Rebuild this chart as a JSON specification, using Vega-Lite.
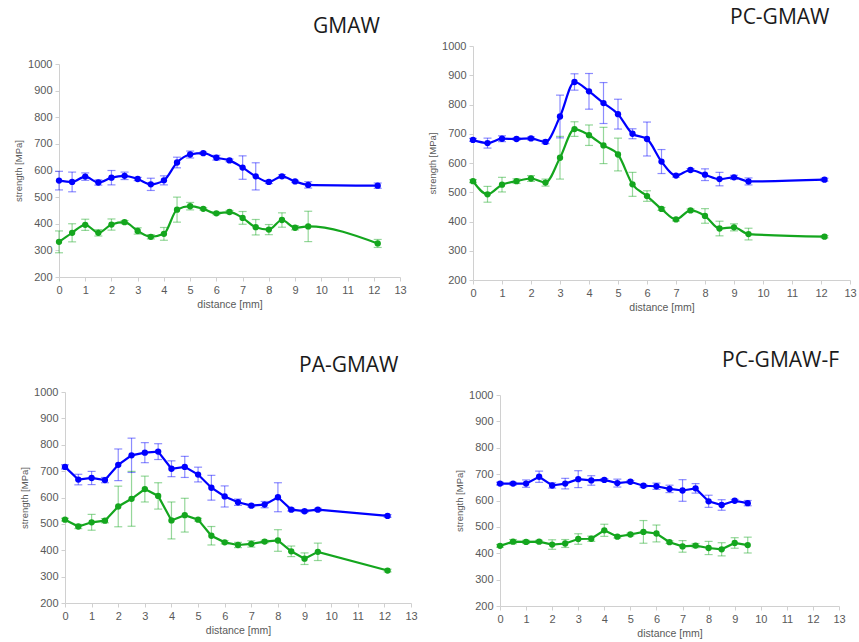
{
  "$schema": "https://vega.github.io/schema/vega-lite/v6.json",
  "background": "white",
  "padding": {"left": 13, "top": 7, "right": 0, "bottom": 0},
  "config": {
    "view": {"stroke": null},
    "axis": {
      "grid": false,
      "domainColor": "#d0d0d0",
      "tickColor": "#d0d0d0",
      "tickSize": 4,
      "labelColor": "#595959",
      "titleColor": "#595959",
      "labelFont": "Liberation Sans",
      "titleFont": "Liberation Sans",
      "labelFontSize": 11,
      "titleFontWeight": "normal",
      "labelPadding": 3
    },
    "axisX": {"titleFontSize": 10.5, "titlePadding": 4, "labelOverlap": false, "labelFlush": false, "labelBound": false, "labelSeparation": 0},
    "axisY": {"titleFontSize": 9.5, "titlePadding": 4},
    "rule": {"strokeWidth": 1.2, "opacity": 0.45},
    "tick": {"orient": "horizontal", "size": 8, "thickness": 1.2, "opacity": 0.45},
    "title": {"font": "Open Sans", "fontSize": 21, "fontWeight": "normal", "color": "#1a1a1a", "anchor": "start", "frame": "group", "baseline": "alphabetic"}
  },
  "datasets": {
    "pts": [
      {"p": "a", "s": "UTS", "d": 0, "v": 562, "lo": 527, "hi": 597},
      {"p": "a", "s": "UTS", "d": 0.5, "v": 557, "lo": 520, "hi": 594},
      {"p": "a", "s": "UTS", "d": 1, "v": 577, "lo": 563, "hi": 591},
      {"p": "a", "s": "UTS", "d": 1.5, "v": 555, "lo": 545, "hi": 565},
      {"p": "a", "s": "UTS", "d": 2, "v": 573, "lo": 546, "hi": 600},
      {"p": "a", "s": "UTS", "d": 2.5, "v": 580, "lo": 566, "hi": 594},
      {"p": "a", "s": "UTS", "d": 3, "v": 568, "lo": 562, "hi": 574},
      {"p": "a", "s": "UTS", "d": 3.5, "v": 548, "lo": 525, "hi": 571},
      {"p": "a", "s": "UTS", "d": 4, "v": 563, "lo": 546, "hi": 580},
      {"p": "a", "s": "UTS", "d": 4.5, "v": 630, "lo": 610, "hi": 650},
      {"p": "a", "s": "UTS", "d": 5, "v": 660, "lo": 647, "hi": 673},
      {"p": "a", "s": "UTS", "d": 5.5, "v": 665, "lo": 661, "hi": 669},
      {"p": "a", "s": "UTS", "d": 6, "v": 648, "lo": 639, "hi": 657},
      {"p": "a", "s": "UTS", "d": 6.5, "v": 638, "lo": 633, "hi": 643},
      {"p": "a", "s": "UTS", "d": 7, "v": 611, "lo": 567, "hi": 655},
      {"p": "a", "s": "UTS", "d": 7.5, "v": 578, "lo": 527, "hi": 629},
      {"p": "a", "s": "UTS", "d": 8, "v": 557, "lo": 551, "hi": 563},
      {"p": "a", "s": "UTS", "d": 8.5, "v": 578, "lo": 572, "hi": 584},
      {"p": "a", "s": "UTS", "d": 9, "v": 559, "lo": 555, "hi": 563},
      {"p": "a", "s": "UTS", "d": 9.5, "v": 546, "lo": 534, "hi": 558},
      {"p": "a", "s": "UTS", "d": 12.15, "v": 543, "lo": 533, "hi": 553},
      {"p": "a", "s": "YS", "d": 0, "v": 332, "lo": 291, "hi": 373},
      {"p": "a", "s": "YS", "d": 0.5, "v": 366, "lo": 332, "hi": 400},
      {"p": "a", "s": "YS", "d": 1, "v": 396, "lo": 375, "hi": 417},
      {"p": "a", "s": "YS", "d": 1.5, "v": 366, "lo": 354, "hi": 378},
      {"p": "a", "s": "YS", "d": 2, "v": 397, "lo": 376, "hi": 418},
      {"p": "a", "s": "YS", "d": 2.5, "v": 406, "lo": 400, "hi": 412},
      {"p": "a", "s": "YS", "d": 3, "v": 373, "lo": 361, "hi": 385},
      {"p": "a", "s": "YS", "d": 3.5, "v": 351, "lo": 343, "hi": 359},
      {"p": "a", "s": "YS", "d": 4, "v": 362, "lo": 338, "hi": 386},
      {"p": "a", "s": "YS", "d": 4.5, "v": 453, "lo": 406, "hi": 500},
      {"p": "a", "s": "YS", "d": 5, "v": 466, "lo": 452, "hi": 480},
      {"p": "a", "s": "YS", "d": 5.5, "v": 456, "lo": 452, "hi": 460},
      {"p": "a", "s": "YS", "d": 6, "v": 439, "lo": 434, "hi": 444},
      {"p": "a", "s": "YS", "d": 6.5, "v": 444, "lo": 438, "hi": 450},
      {"p": "a", "s": "YS", "d": 7, "v": 422, "lo": 398, "hi": 446},
      {"p": "a", "s": "YS", "d": 7.5, "v": 387, "lo": 358, "hi": 416},
      {"p": "a", "s": "YS", "d": 8, "v": 378, "lo": 359, "hi": 397},
      {"p": "a", "s": "YS", "d": 8.5, "v": 414, "lo": 387, "hi": 441},
      {"p": "a", "s": "YS", "d": 9, "v": 385, "lo": 377, "hi": 393},
      {"p": "a", "s": "YS", "d": 9.5, "v": 390, "lo": 333, "hi": 447},
      {"p": "a", "s": "YS", "d": 12.15, "v": 326, "lo": 311, "hi": 341},

      {"p": "b", "s": "UTS", "d": 0, "v": 679, "lo": 674, "hi": 684},
      {"p": "b", "s": "UTS", "d": 0.5, "v": 668, "lo": 651, "hi": 685},
      {"p": "b", "s": "UTS", "d": 1, "v": 683, "lo": 673, "hi": 693},
      {"p": "b", "s": "UTS", "d": 1.5, "v": 682, "lo": 678, "hi": 686},
      {"p": "b", "s": "UTS", "d": 2, "v": 684, "lo": 679, "hi": 689},
      {"p": "b", "s": "UTS", "d": 2.5, "v": 672, "lo": 666, "hi": 678},
      {"p": "b", "s": "UTS", "d": 3, "v": 759, "lo": 686, "hi": 832},
      {"p": "b", "s": "UTS", "d": 3.5, "v": 877, "lo": 849, "hi": 905},
      {"p": "b", "s": "UTS", "d": 4, "v": 845, "lo": 784, "hi": 906},
      {"p": "b", "s": "UTS", "d": 4.5, "v": 805, "lo": 735, "hi": 875},
      {"p": "b", "s": "UTS", "d": 5, "v": 767, "lo": 716, "hi": 818},
      {"p": "b", "s": "UTS", "d": 5.5, "v": 700, "lo": 683, "hi": 717},
      {"p": "b", "s": "UTS", "d": 6, "v": 682, "lo": 624, "hi": 740},
      {"p": "b", "s": "UTS", "d": 6.5, "v": 605, "lo": 564, "hi": 646},
      {"p": "b", "s": "UTS", "d": 7, "v": 557, "lo": 552, "hi": 562},
      {"p": "b", "s": "UTS", "d": 7.5, "v": 576, "lo": 571, "hi": 581},
      {"p": "b", "s": "UTS", "d": 8, "v": 560, "lo": 540, "hi": 580},
      {"p": "b", "s": "UTS", "d": 8.5, "v": 545, "lo": 522, "hi": 568},
      {"p": "b", "s": "UTS", "d": 9, "v": 551, "lo": 544, "hi": 558},
      {"p": "b", "s": "UTS", "d": 9.5, "v": 537, "lo": 525, "hi": 549},
      {"p": "b", "s": "UTS", "d": 12.12, "v": 543, "lo": 538, "hi": 548},
      {"p": "b", "s": "YS", "d": 0, "v": 538, "lo": 533, "hi": 543},
      {"p": "b", "s": "YS", "d": 0.5, "v": 493, "lo": 466, "hi": 520},
      {"p": "b", "s": "YS", "d": 1, "v": 526, "lo": 501, "hi": 551},
      {"p": "b", "s": "YS", "d": 1.5, "v": 538, "lo": 530, "hi": 546},
      {"p": "b", "s": "YS", "d": 2, "v": 547, "lo": 537, "hi": 557},
      {"p": "b", "s": "YS", "d": 2.5, "v": 533, "lo": 521, "hi": 545},
      {"p": "b", "s": "YS", "d": 3, "v": 618, "lo": 545, "hi": 691},
      {"p": "b", "s": "YS", "d": 3.5, "v": 716, "lo": 691, "hi": 741},
      {"p": "b", "s": "YS", "d": 4, "v": 695, "lo": 660, "hi": 730},
      {"p": "b", "s": "YS", "d": 4.5, "v": 660, "lo": 598, "hi": 722},
      {"p": "b", "s": "YS", "d": 5, "v": 629, "lo": 573, "hi": 685},
      {"p": "b", "s": "YS", "d": 5.5, "v": 527, "lo": 486, "hi": 568},
      {"p": "b", "s": "YS", "d": 6, "v": 487, "lo": 469, "hi": 505},
      {"p": "b", "s": "YS", "d": 6.5, "v": 443, "lo": 438, "hi": 448},
      {"p": "b", "s": "YS", "d": 7, "v": 407, "lo": 402, "hi": 412},
      {"p": "b", "s": "YS", "d": 7.5, "v": 438, "lo": 433, "hi": 443},
      {"p": "b", "s": "YS", "d": 8, "v": 419, "lo": 394, "hi": 444},
      {"p": "b", "s": "YS", "d": 8.5, "v": 376, "lo": 351, "hi": 401},
      {"p": "b", "s": "YS", "d": 9, "v": 380, "lo": 368, "hi": 392},
      {"p": "b", "s": "YS", "d": 9.5, "v": 357, "lo": 337, "hi": 377},
      {"p": "b", "s": "YS", "d": 12.12, "v": 348, "lo": 344, "hi": 352},

      {"p": "c", "s": "UTS", "d": 0, "v": 716, "lo": 708, "hi": 724},
      {"p": "c", "s": "UTS", "d": 0.5, "v": 668, "lo": 648, "hi": 688},
      {"p": "c", "s": "UTS", "d": 1, "v": 674, "lo": 649, "hi": 699},
      {"p": "c", "s": "UTS", "d": 1.5, "v": 666, "lo": 656, "hi": 676},
      {"p": "c", "s": "UTS", "d": 2, "v": 724, "lo": 664, "hi": 784},
      {"p": "c", "s": "UTS", "d": 2.5, "v": 760, "lo": 695, "hi": 825},
      {"p": "c", "s": "UTS", "d": 3, "v": 770, "lo": 732, "hi": 808},
      {"p": "c", "s": "UTS", "d": 3.5, "v": 774, "lo": 744, "hi": 804},
      {"p": "c", "s": "UTS", "d": 4, "v": 709, "lo": 679, "hi": 739},
      {"p": "c", "s": "UTS", "d": 4.5, "v": 716, "lo": 676, "hi": 756},
      {"p": "c", "s": "UTS", "d": 5, "v": 687, "lo": 659, "hi": 715},
      {"p": "c", "s": "UTS", "d": 5.5, "v": 637, "lo": 590, "hi": 684},
      {"p": "c", "s": "UTS", "d": 6, "v": 604, "lo": 564, "hi": 644},
      {"p": "c", "s": "UTS", "d": 6.5, "v": 582, "lo": 570, "hi": 594},
      {"p": "c", "s": "UTS", "d": 7, "v": 569, "lo": 564, "hi": 574},
      {"p": "c", "s": "UTS", "d": 7.5, "v": 573, "lo": 561, "hi": 585},
      {"p": "c", "s": "UTS", "d": 8, "v": 601, "lo": 546, "hi": 656},
      {"p": "c", "s": "UTS", "d": 8.5, "v": 554, "lo": 549, "hi": 559},
      {"p": "c", "s": "UTS", "d": 9, "v": 548, "lo": 543, "hi": 553},
      {"p": "c", "s": "UTS", "d": 9.5, "v": 554, "lo": 549, "hi": 559},
      {"p": "c", "s": "UTS", "d": 12.12, "v": 530, "lo": 525, "hi": 535},
      {"p": "c", "s": "YS", "d": 0, "v": 516, "lo": 511, "hi": 521},
      {"p": "c", "s": "YS", "d": 0.5, "v": 490, "lo": 482, "hi": 498},
      {"p": "c", "s": "YS", "d": 1, "v": 506, "lo": 476, "hi": 536},
      {"p": "c", "s": "YS", "d": 1.5, "v": 512, "lo": 504, "hi": 520},
      {"p": "c", "s": "YS", "d": 2, "v": 566, "lo": 489, "hi": 643},
      {"p": "c", "s": "YS", "d": 2.5, "v": 595, "lo": 491, "hi": 699},
      {"p": "c", "s": "YS", "d": 3, "v": 632, "lo": 583, "hi": 681},
      {"p": "c", "s": "YS", "d": 3.5, "v": 606, "lo": 556, "hi": 656},
      {"p": "c", "s": "YS", "d": 4, "v": 513, "lo": 443, "hi": 583},
      {"p": "c", "s": "YS", "d": 4.5, "v": 533, "lo": 469, "hi": 597},
      {"p": "c", "s": "YS", "d": 5, "v": 516, "lo": 511, "hi": 521},
      {"p": "c", "s": "YS", "d": 5.5, "v": 455, "lo": 420, "hi": 490},
      {"p": "c", "s": "YS", "d": 6, "v": 430, "lo": 424, "hi": 436},
      {"p": "c", "s": "YS", "d": 6.5, "v": 420, "lo": 410, "hi": 430},
      {"p": "c", "s": "YS", "d": 7, "v": 424, "lo": 412, "hi": 436},
      {"p": "c", "s": "YS", "d": 7.5, "v": 433, "lo": 428, "hi": 438},
      {"p": "c", "s": "YS", "d": 8, "v": 437, "lo": 396, "hi": 478},
      {"p": "c", "s": "YS", "d": 8.5, "v": 396, "lo": 376, "hi": 416},
      {"p": "c", "s": "YS", "d": 9, "v": 368, "lo": 346, "hi": 390},
      {"p": "c", "s": "YS", "d": 9.5, "v": 394, "lo": 361, "hi": 427},
      {"p": "c", "s": "YS", "d": 12.12, "v": 323, "lo": 318, "hi": 328},

      {"p": "d", "s": "UTS", "d": 0, "v": 664, "lo": 659, "hi": 669},
      {"p": "d", "s": "UTS", "d": 0.5, "v": 664, "lo": 659, "hi": 669},
      {"p": "d", "s": "UTS", "d": 1, "v": 664, "lo": 650, "hi": 678},
      {"p": "d", "s": "UTS", "d": 1.5, "v": 690, "lo": 669, "hi": 711},
      {"p": "d", "s": "UTS", "d": 2, "v": 657, "lo": 647, "hi": 667},
      {"p": "d", "s": "UTS", "d": 2.5, "v": 664, "lo": 644, "hi": 684},
      {"p": "d", "s": "UTS", "d": 3, "v": 681, "lo": 649, "hi": 713},
      {"p": "d", "s": "UTS", "d": 3.5, "v": 676, "lo": 658, "hi": 694},
      {"p": "d", "s": "UTS", "d": 4, "v": 678, "lo": 673, "hi": 683},
      {"p": "d", "s": "UTS", "d": 4.5, "v": 666, "lo": 651, "hi": 681},
      {"p": "d", "s": "UTS", "d": 5, "v": 671, "lo": 666, "hi": 676},
      {"p": "d", "s": "UTS", "d": 5.5, "v": 656, "lo": 651, "hi": 661},
      {"p": "d", "s": "UTS", "d": 6, "v": 654, "lo": 642, "hi": 666},
      {"p": "d", "s": "UTS", "d": 6.5, "v": 644, "lo": 630, "hi": 658},
      {"p": "d", "s": "UTS", "d": 7, "v": 638, "lo": 597, "hi": 679},
      {"p": "d", "s": "UTS", "d": 7.5, "v": 646, "lo": 628, "hi": 664},
      {"p": "d", "s": "UTS", "d": 8, "v": 597, "lo": 574, "hi": 620},
      {"p": "d", "s": "UTS", "d": 8.5, "v": 583, "lo": 563, "hi": 603},
      {"p": "d", "s": "UTS", "d": 9, "v": 599, "lo": 594, "hi": 604},
      {"p": "d", "s": "UTS", "d": 9.5, "v": 590, "lo": 580, "hi": 600},
      {"p": "d", "s": "YS", "d": 0, "v": 428, "lo": 423, "hi": 433},
      {"p": "d", "s": "YS", "d": 0.5, "v": 444, "lo": 436, "hi": 452},
      {"p": "d", "s": "YS", "d": 1, "v": 443, "lo": 437, "hi": 449},
      {"p": "d", "s": "YS", "d": 1.5, "v": 444, "lo": 439, "hi": 449},
      {"p": "d", "s": "YS", "d": 2, "v": 433, "lo": 415, "hi": 451},
      {"p": "d", "s": "YS", "d": 2.5, "v": 437, "lo": 422, "hi": 452},
      {"p": "d", "s": "YS", "d": 3, "v": 454, "lo": 434, "hi": 474},
      {"p": "d", "s": "YS", "d": 3.5, "v": 455, "lo": 445, "hi": 465},
      {"p": "d", "s": "YS", "d": 4, "v": 487, "lo": 464, "hi": 510},
      {"p": "d", "s": "YS", "d": 4.5, "v": 463, "lo": 458, "hi": 468},
      {"p": "d", "s": "YS", "d": 5, "v": 471, "lo": 466, "hi": 476},
      {"p": "d", "s": "YS", "d": 5.5, "v": 481, "lo": 438, "hi": 524},
      {"p": "d", "s": "YS", "d": 6, "v": 475, "lo": 443, "hi": 507},
      {"p": "d", "s": "YS", "d": 6.5, "v": 442, "lo": 437, "hi": 447},
      {"p": "d", "s": "YS", "d": 7, "v": 426, "lo": 404, "hi": 448},
      {"p": "d", "s": "YS", "d": 7.5, "v": 429, "lo": 421, "hi": 437},
      {"p": "d", "s": "YS", "d": 8, "v": 420, "lo": 395, "hi": 445},
      {"p": "d", "s": "YS", "d": 8.5, "v": 415, "lo": 390, "hi": 440},
      {"p": "d", "s": "YS", "d": 9, "v": 439, "lo": 419, "hi": 459},
      {"p": "d", "s": "YS", "d": 9.5, "v": 431, "lo": 401, "hi": 461}
    ]
  },
  "columns": 4,
  "align": "none",
  "bounds": "flush",
  "spacing": 0,
  "concat": [
    {"data": {"values": []}, "mark": "text", "encoding": {}, "width": 1, "height": 1},
    {
      "width": 341,
      "height": 231,
      "title": {"text": "GMAW", "dx": 254, "offset": 9},
      "data": {"name": "pts"},
      "transform": [{"filter": "datum.p == 'a'"}],
      "encoding": {
        "x": {"field": "d", "type": "quantitative", "scale": {"domain": [0, 13], "nice": false}, "axis": {"title": "distance [mm]", "values": [0, 1, 2, 3, 4, 5, 6, 7, 8, 9, 10, 11, 12, 13], "labelOverlap": false, "labelFlush": false, "labelSeparation": 0}},
        "color": {"field": "s", "type": "nominal", "scale": {"domain": ["UTS", "YS"], "range": ["#0000ff", "#14a61e"]}, "legend": null}
      },
      "layer": [
        {
          "mark": "rule",
          "encoding": {
            "y": {"field": "lo", "type": "quantitative", "scale": {"domain": [200, 1000], "nice": false, "range": [231, 18]}, "axis": {"title": "strength [MPa]", "format": "d", "values": [200, 300, 400, 500, 600, 700, 800, 900, 1000], "tickCount": 9}},
            "y2": {"field": "hi"}
          }
        },
        {"mark": "tick", "encoding": {"y": {"field": "lo", "type": "quantitative"}}},
        {"mark": "tick", "encoding": {"y": {"field": "hi", "type": "quantitative"}}},
        {
          "mark": {"type": "line", "interpolate": "monotone", "strokeWidth": 2.2},
          "encoding": {"y": {"field": "v", "type": "quantitative"}}
        },
        {
          "mark": {"type": "circle", "size": 40, "opacity": 1},
          "encoding": {"y": {"field": "v", "type": "quantitative"}}
        },
        {
          "data": {"values": [{}]},
          "mark": {"type": "rect", "fill": "white", "stroke": "#4472c4", "strokeWidth": 1.3},
          "encoding": {
            "x": {"datum": 10.98, "type": "quantitative"},
            "x2": {"datum": 12.58},
            "y": {"datum": 988, "type": "quantitative"},
            "y2": {"datum": 838},
            "color": {"value": "white"}
          }
        },
        {
          "data": {"values": [{}]},
          "mark": {"type": "text", "text": "a)", "font": "Open Sans", "fontSize": 24, "baseline": "middle", "align": "center"},
          "encoding": {
            "x": {"datum": 11.78, "type": "quantitative"},
            "y": {"datum": 913, "type": "quantitative"},
            "color": {"value": "#111111"}
          }
        }
      ]
    },
    {"data": {"values": []}, "mark": "text", "encoding": {}, "width": 62, "height": 1},
    {
      "width": 377,
      "height": 234,
      "title": {"text": "PC-GMAW", "dx": 257, "offset": 12},
      "data": {"name": "pts"},
      "transform": [{"filter": "datum.p == 'b'"}],
      "encoding": {
        "x": {"field": "d", "type": "quantitative", "scale": {"domain": [0, 13], "nice": false}, "axis": {"title": "distance [mm]", "values": [0, 1, 2, 3, 4, 5, 6, 7, 8, 9, 10, 11, 12, 13], "labelOverlap": false, "labelFlush": false, "labelSeparation": 0}},
        "color": {"field": "s", "type": "nominal", "scale": {"domain": ["UTS", "YS"], "range": ["#0000ff", "#14a61e"]}, "legend": null}
      },
      "layer": [
        {
          "mark": "rule",
          "encoding": {
            "y": {"field": "lo", "type": "quantitative", "scale": {"domain": [200, 1000], "nice": false}, "axis": {"title": "strength [MPa]", "format": "d", "values": [200, 300, 400, 500, 600, 700, 800, 900, 1000], "tickCount": 9}},
            "y2": {"field": "hi"}
          }
        },
        {"mark": "tick", "encoding": {"y": {"field": "lo", "type": "quantitative"}}},
        {"mark": "tick", "encoding": {"y": {"field": "hi", "type": "quantitative"}}},
        {
          "mark": {"type": "line", "interpolate": "monotone", "strokeWidth": 2.2},
          "encoding": {"y": {"field": "v", "type": "quantitative"}}
        },
        {
          "mark": {"type": "circle", "size": 40, "opacity": 1},
          "encoding": {"y": {"field": "v", "type": "quantitative"}}
        },
        {
          "data": {"values": [{}]},
          "mark": {"type": "rect", "fill": "white", "stroke": "#4472c4", "strokeWidth": 1.3},
          "encoding": {
            "x": {"datum": 11.24, "type": "quantitative"},
            "x2": {"datum": 12.66},
            "y": {"datum": 911, "type": "quantitative"},
            "y2": {"datum": 785},
            "color": {"value": "white"}
          }
        },
        {
          "data": {"values": [{}]},
          "mark": {"type": "text", "text": "b)", "font": "Open Sans", "fontSize": 24, "baseline": "middle", "align": "center"},
          "encoding": {
            "x": {"datum": 11.95, "type": "quantitative"},
            "y": {"datum": 848, "type": "quantitative"},
            "color": {"value": "#111111"}
          }
        }
      ]
    },

    {"data": {"values": []}, "mark": "text", "encoding": {}, "width": 1, "height": 112},
    {"data": {"values": []}, "mark": "text", "encoding": {}, "width": 1, "height": 1},
    {"data": {"values": []}, "mark": "text", "encoding": {}, "width": 1, "height": 1},
    {"data": {"values": []}, "mark": "text", "encoding": {}, "width": 1, "height": 1},

    {"data": {"values": []}, "mark": "text", "encoding": {}, "width": 1, "height": 1},
    {
      "width": 352,
      "height": 211,
      "title": {"text": "PA-GMAW", "dx": 240, "offset": 10},
      "data": {"name": "pts"},
      "transform": [{"filter": "datum.p == 'c'"}],
      "encoding": {
        "x": {"field": "d", "type": "quantitative", "scale": {"domain": [0, 13], "nice": false, "range": [6, 352]}, "axis": {"title": "distance [mm]", "values": [0, 1, 2, 3, 4, 5, 6, 7, 8, 9, 10, 11, 12, 13], "labelOverlap": false, "labelFlush": false, "labelSeparation": 0}},
        "color": {"field": "s", "type": "nominal", "scale": {"domain": ["UTS", "YS"], "range": ["#0000ff", "#14a61e"]}, "legend": null}
      },
      "layer": [
        {
          "mark": "rule",
          "encoding": {
            "y": {"field": "lo", "type": "quantitative", "scale": {"domain": [200, 1000], "nice": false}, "axis": {"title": "strength [MPa]", "format": "d", "values": [200, 300, 400, 500, 600, 700, 800, 900, 1000], "tickCount": 9, "offset": -6}},
            "y2": {"field": "hi"}
          }
        },
        {"mark": "tick", "encoding": {"y": {"field": "lo", "type": "quantitative"}}},
        {"mark": "tick", "encoding": {"y": {"field": "hi", "type": "quantitative"}}},
        {
          "mark": {"type": "line", "strokeWidth": 2.2},
          "encoding": {"y": {"field": "v", "type": "quantitative"}}
        },
        {
          "mark": {"type": "circle", "size": 40, "opacity": 1},
          "encoding": {"y": {"field": "v", "type": "quantitative"}}
        },
        {
          "data": {"values": [{}]},
          "mark": {"type": "rect", "fill": "white", "stroke": "#4472c4", "strokeWidth": 1.3},
          "encoding": {
            "x": {"datum": 10.9, "type": "quantitative"},
            "x2": {"datum": 12.44},
            "y": {"datum": 852, "type": "quantitative"},
            "y2": {"datum": 708},
            "color": {"value": "white"}
          }
        },
        {
          "data": {"values": [{}]},
          "mark": {"type": "text", "text": "c)", "font": "Open Sans", "fontSize": 24, "baseline": "middle", "align": "center"},
          "encoding": {
            "x": {"datum": 11.67, "type": "quantitative"},
            "y": {"datum": 780, "type": "quantitative"},
            "color": {"value": "#111111"}
          }
        }
      ]
    },
    {"data": {"values": []}, "mark": "text", "encoding": {}, "width": 62, "height": 1},
    {
      "width": 366,
      "height": 214,
      "title": {"text": "PC-GMAW-F", "dx": 249, "offset": 18},
      "data": {"name": "pts"},
      "transform": [{"filter": "datum.p == 'd'"}],
      "encoding": {
        "x": {"field": "d", "type": "quantitative", "scale": {"domain": [0, 13], "nice": false, "range": [27, 366]}, "axis": {"title": "distance [mm]", "values": [0, 1, 2, 3, 4, 5, 6, 7, 8, 9, 10, 11, 12, 13], "labelOverlap": false, "labelFlush": false, "labelSeparation": 0}},
        "color": {"field": "s", "type": "nominal", "scale": {"domain": ["UTS", "YS"], "range": ["#0000ff", "#14a61e"]}, "legend": null}
      },
      "layer": [
        {
          "mark": "rule",
          "encoding": {
            "y": {"field": "lo", "type": "quantitative", "scale": {"domain": [200, 1000], "nice": false, "range": [214, 3]}, "axis": {"title": "strength [MPa]", "format": "d", "values": [200, 300, 400, 500, 600, 700, 800, 900, 1000], "tickCount": 9, "offset": -27}},
            "y2": {"field": "hi"}
          }
        },
        {"mark": "tick", "encoding": {"y": {"field": "lo", "type": "quantitative"}}},
        {"mark": "tick", "encoding": {"y": {"field": "hi", "type": "quantitative"}}},
        {
          "mark": {"type": "line", "strokeWidth": 2.2},
          "encoding": {"y": {"field": "v", "type": "quantitative"}}
        },
        {
          "mark": {"type": "circle", "size": 40, "opacity": 1},
          "encoding": {"y": {"field": "v", "type": "quantitative"}}
        },
        {
          "data": {"values": [{}]},
          "mark": {"type": "rect", "fill": "white", "stroke": "#4472c4", "strokeWidth": 1.3},
          "encoding": {
            "x": {"datum": 11.08, "type": "quantitative"},
            "x2": {"datum": 12.62},
            "y": {"datum": 898, "type": "quantitative"},
            "y2": {"datum": 754},
            "color": {"value": "white"}
          }
        },
        {
          "data": {"values": [{}]},
          "mark": {"type": "text", "text": "d)", "font": "Open Sans", "fontSize": 24, "baseline": "middle", "align": "center"},
          "encoding": {
            "x": {"datum": 11.85, "type": "quantitative"},
            "y": {"datum": 826, "type": "quantitative"},
            "color": {"value": "#111111"}
          }
        }
      ]
    }
  ]
}
